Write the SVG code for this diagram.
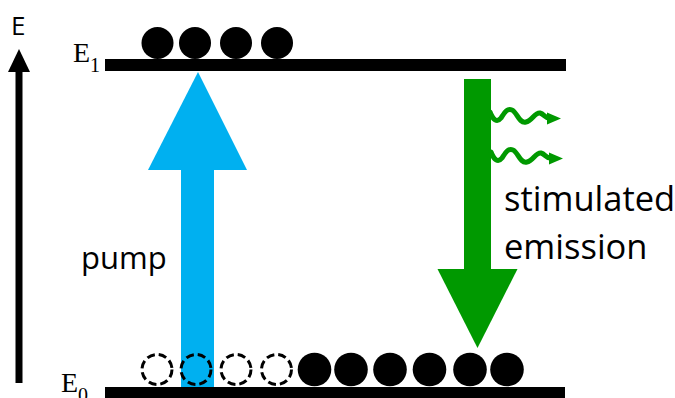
<svg xmlns="http://www.w3.org/2000/svg" width="675" height="398" viewBox="0 0 675 398">
  <style>
    .lbl { font-family: "Open Sans", "Noto Sans", sans-serif; fill: #000; }
    .lvl { font-family: "Liberation Serif", "DejaVu Serif", serif; fill: #000; }
    .bar { fill: #000; }
    .full { fill: #000; }
    .hole { fill: none; stroke: #000; stroke-width: 3; stroke-dasharray: 8 4; }
    .wave { fill: none; stroke: #009900; stroke-width: 5; stroke-linecap: round; }
    .photon-head { fill: #009900; }
  </style>
  <rect width="675" height="398" fill="#fff"/>

  <!-- energy axis -->
  <g id="axis">
    <rect x="15.5" y="70" width="7" height="313" fill="#000"/>
    <polygon points="8,72 19,49 30,72" fill="#000"/>
    <text class="lbl" x="11" y="35" font-size="26">E</text>
  </g>

  <!-- upper level E1 -->
  <g id="level-e1">
    <rect class="bar" x="105" y="59" width="461" height="12"/>
    <text class="lvl" x="73" y="62" font-size="28">E<tspan font-size="20" dy="10">1</tspan></text>
  </g>

  <!-- ground level E0 -->
  <g id="level-e0">
    <rect class="bar" x="105" y="387" width="460" height="14"/>
    <text class="lvl" x="61" y="392" font-size="28">E<tspan font-size="20" dy="10">0</tspan></text>
  </g>

  <!-- pump transition -->
  <g id="pump">
    <rect x="181" y="168" width="33" height="219" fill="#00b0f0"/>
    <polygon points="148,170 198,72 247,170" fill="#00b0f0"/>
    <text class="lbl" x="81" y="269" font-size="31">pump</text>
  </g>

  <!-- stimulated emission transition -->
  <g id="emission">
    <rect x="464" y="79" width="27" height="192" fill="#009900"/>
    <polygon points="437.5,269 517.5,269 477.5,348" fill="#009900"/>
    <text class="lbl" x="504" y="211" font-size="34.5">stimulated</text>
    <text class="lbl" x="504" y="259" font-size="34.5">emission</text>
  </g>

  <!-- emitted photons -->
  <g id="photons">
    <g id="photon-1">
      <path class="wave" d="M490,112 C493,120 497,123 501,118 C505,112 507,108 512,110 C517,112 519,124 526,122 C532,121 535,112 540,113 C544,114 545,118 549,118"/>
      <polygon class="photon-head" points="547,112.5 561,118.5 547,124.5"/>
    </g>
    <g id="photon-2">
      <path class="wave" d="M491,152 C494,160 498,163 502,158 C506,152 508,148 513,150 C518,152 520,164 527,162 C533,161 536,152 541,153 C545,154 546,158 550,158"/>
      <polygon class="photon-head" points="549,152.5 563,158.5 549,164.5"/>
    </g>
  </g>

  <!-- upper-level population -->
  <g id="upper-population">
    <circle class="full" cx="157.5" cy="43" r="16"/>
    <circle class="full" cx="195" cy="43" r="16"/>
    <circle class="full" cx="236" cy="43" r="16"/>
    <circle class="full" cx="277" cy="43" r="16"/>
  </g>

  <!-- ground-level population: vacated sites dashed -->
  <g id="ground-population">
    <circle class="hole" cx="157" cy="369.5" r="15"/>
    <circle class="hole" cx="196" cy="369.5" r="15"/>
    <circle class="hole" cx="236" cy="369.5" r="15"/>
    <circle class="hole" cx="276.5" cy="369.5" r="15"/>
    <circle class="full" cx="314.5" cy="369.5" r="16.8"/>
    <circle class="full" cx="351" cy="369.5" r="16.8"/>
    <circle class="full" cx="390" cy="369.5" r="16.8"/>
    <circle class="full" cx="429.5" cy="369.5" r="16.8"/>
    <circle class="full" cx="470" cy="369.5" r="16.8"/>
    <circle class="full" cx="507" cy="369.5" r="16.8"/>
  </g>
</svg>
